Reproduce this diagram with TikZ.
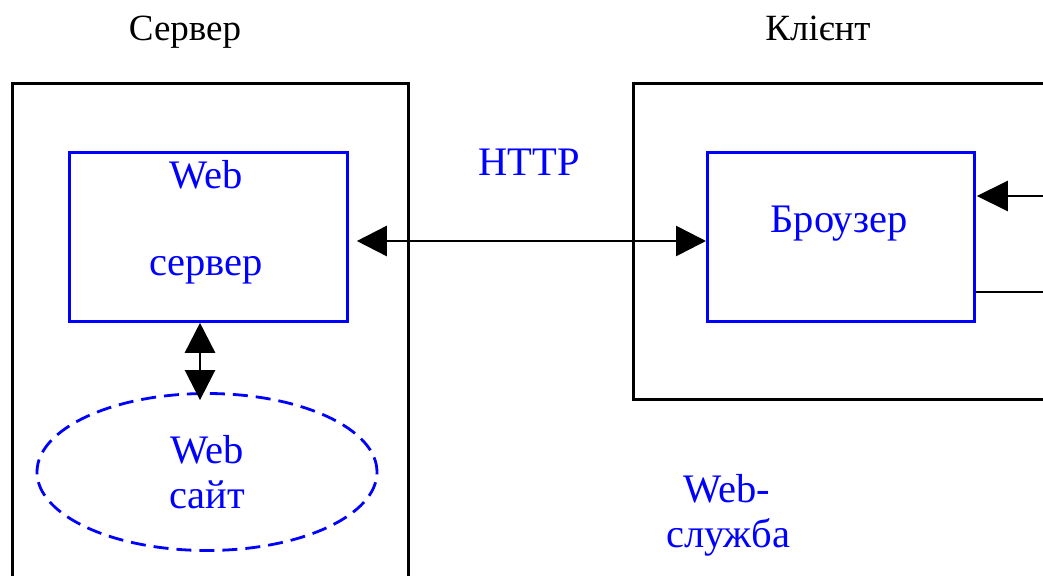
\documentclass[tikz,border=0pt]{standalone}
\usepackage{fontspec}
\setmainfont{Liberation Serif}
\usetikzlibrary{arrows.meta,shapes.geometric}
\definecolor{wblue}{RGB}{0,0,255}
\begin{document}
\begin{tikzpicture}[x=1pt,y=-1pt,
  outerbox/.style={draw=black,line width=2.8pt,inner sep=0pt},
  bluebox/.style={draw=wblue,line width=2.8pt,inner sep=0pt},
  bluetxt/.style={text=wblue,font=\fontsize{40.5}{46}\selectfont,anchor=base,inner sep=0pt},
  titletxt/.style={text=black,font=\fontsize{37}{43}\selectfont,anchor=base,inner sep=0pt},
  dbl/.style={line width=2.6pt,{Triangle[length=30pt,width=30pt]}-{Triangle[length=30pt,width=30pt]}},
  sgl/.style={line width=2.6pt,-{Triangle[length=31pt,width=30pt]}},
  plain/.style={line width=2.6pt}]
\useasboundingbox (0,0) rectangle (1043,575);
\clip (0,0) rectangle (1043,575);
% titles
\node[titletxt] (tserv) at (185,41) {Сервер};
\node[titletxt] (tclient) at (818,41) {Клієнт};
% outer boxes
\node[outerbox,minimum width=396pt,minimum height=560pt,anchor=north west] (srv) at (11,82) {};
\node[outerbox,minimum width=500pt,minimum height=316pt,anchor=north west] (cli) at (632,82) {};
% web server box
\node[bluebox,minimum width=278pt,minimum height=169pt,anchor=north west] (ws) at (68,151) {};
\node[bluetxt] (wst1) at (206,188) {Web};
\node[bluetxt] (wst2) at (206,275) {сервер};
% browser box
\node[bluebox,minimum width=267pt,minimum height=169pt,anchor=north west] (br) at (706,151) {};
\node[bluetxt] (brt) at (839,232) {Броузер};
% web site ellipse
\node[ellipse,draw=wblue,line width=2.8pt,dash pattern=on 15pt off 8pt,minimum width=340pt,minimum height=157pt,inner sep=0pt] (site) at (207,472) {};
\node[bluetxt] (sitet1) at (207,463) {Web};
\node[bluetxt] (sitet2) at (207,508) {сайт};
% labels
\node[bluetxt] (http) at (529,175) {HTTP};
\node[bluetxt] (ws1) at (727,502) {Web-};
\node[bluetxt] (ws2) at (728,547) {служба};
% connectors
\coordinate (hy) at (0,241);
\draw[dbl] ([xshift=8pt]ws.east |- hy) -- (br.west |- hy);
\coordinate (vx) at (200,0);
\draw[dbl] (ws.south -| vx) -- ([yshift=-8pt]site.north -| vx);
\coordinate (in1) at (1043,196);
\draw[sgl] (in1) -- ([xshift=1pt]br.east |- in1);
\coordinate (out1) at (1043,292);
\draw[plain] (br.east |- out1) -- (out1);
\end{tikzpicture}
\end{document}
